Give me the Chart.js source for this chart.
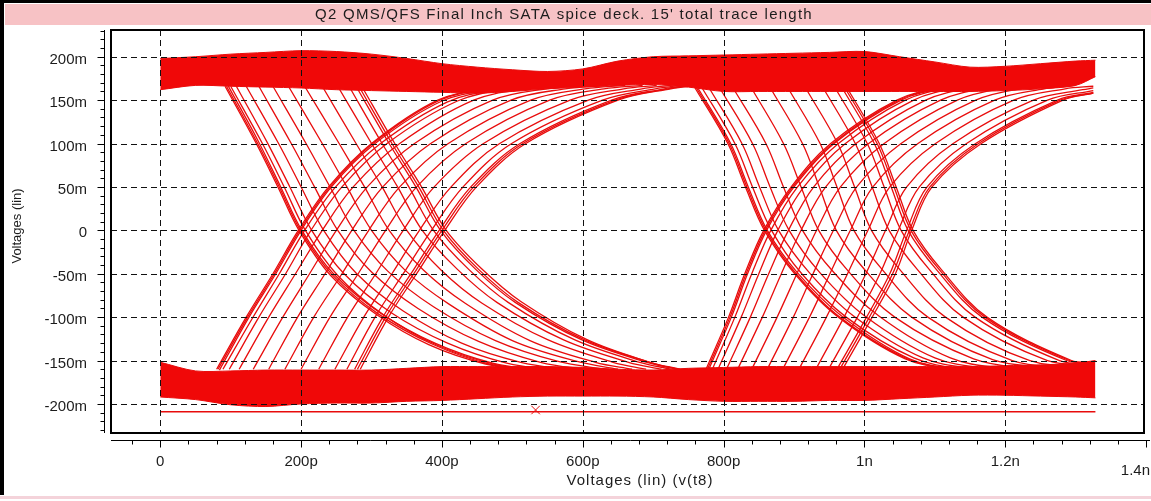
<!DOCTYPE html>
<html>
<head>
<meta charset="utf-8">
<script src="https://cdn.jsdelivr.net/npm/chart.js@4.4.1/dist/chart.umd.min.js"></script>
<style>
  html, body { margin: 0; padding: 0; background: #fff; }
  canvas { display: block; }
</style>
</head>
<body>
<canvas id="eyeChart" width="1151" height="501"></canvas>
<script>
// --- DATA (x in ps, y in mV) ---
const chartTitle = "Q2 QMS/QFS Final Inch SATA spice deck. 15' total trace length";
const xAxisTitle = 'Voltages (lin) (v(t8)';
const yAxisTitle = 'Voltages (lin)';

const xTickValues = [0, 200, 400, 600, 800, 1000, 1200, 1400];
const xTickLabels = ['0', '200p', '400p', '600p', '800p', '1n', '1.2n', '1.4n'];
const yTickValues = [-200, -150, -100, -50, 0, 50, 100, 150, 200];
const yTickLabels = ['-200m', '-150m', '-100m', '-50m', '0', '50m', '100m', '150m', '200m'];
const xRange = [-70, 1397];
const yRange = [-233.5, 230.8];

// thick "1" and "0" rails of the eye
const bandX = [0, 50, 100, 150, 200, 250, 300, 350, 400, 450, 500, 550, 600, 650,
  700, 750, 800, 850, 900, 950, 1000, 1050, 1100, 1150, 1200, 1250, 1300, 1328];
const topBandUpper = [198, 200, 203, 205, 207, 206, 203, 198, 192, 188, 185, 183, 186, 195,
  200, 201, 202, 203, 204, 205, 206, 200, 194, 188, 189, 192, 195, 196];
const topBandLower = [162, 167, 166, 165, 164, 162, 161, 160, 159, 158, 160, 163, 165, 167,
  168, 165, 160, 160, 160, 160, 160, 160, 160, 160, 161, 163, 167, 177];
const bottomBandUpper = [-152, -162, -162, -161, -161, -161, -161, -159, -157, -157, -157, -157, -158, -160,
  -161, -159, -158, -157, -157, -157, -157, -157, -157, -157, -156, -155, -153, -150];
const bottomBandLower = [-192, -195, -201, -203, -200, -199, -199, -197, -196, -194, -192, -191, -191, -191,
  -192, -195, -197, -197, -197, -196, -196, -194, -192, -190, -190, -191, -192, -193];

// first bit: falling and rising edges
const fallingEdges1 = [
  [[92,166],[135,102],[167,50],[197,0],[242,-52],[307,-97],[382,-132],[462,-154],[532,-162]],
  [[94,166],[137,102],[169,50],[199,0],[244,-51],[309,-96],[386,-131],[467,-154],[540,-162]],
  [[96,167],[139,103],[171,50],[201,0],[246,-50],[312,-95],[390,-130],[472,-153],[545,-162]],
  [[100,166],[145,100],[176,50],[206,0],[252,-52],[318,-98],[395,-133],[478,-155],[550,-163]],
  [[108,166],[152,101],[184,50],[215,0],[261,-50],[328,-95],[408,-130],[492,-153],[565,-162]],
  [[122,166],[168,100],[200,50],[232,0],[279,-50],[345,-93],[428,-130],[512,-152],[585,-161]],
  [[140,166],[186,100],[219,50],[252,0],[300,-48],[366,-90],[452,-128],[540,-152],[610,-161]],
  [[160,166],[207,100],[241,50],[275,0],[323,-47],[388,-88],[476,-127],[565,-151],[630,-160]],
  [[182,166],[230,100],[265,50],[300,0],[349,-47],[410,-85],[500,-127],[592,-151],[650,-160]],
  [[205,166],[254,100],[290,50],[325,0],[374,-46],[433,-84],[525,-127],[618,-152],[670,-160]],
  [[230,166],[278,100],[315,50],[350,0],[399,-46],[457,-84],[550,-126],[643,-152],[690,-160]],
  [[252,166],[300,100],[337,50],[372,0],[422,-45],[478,-83],[572,-126],[665,-152],[712,-160]],
  [[268,166],[315,100],[353,50],[388,0],[438,-45],[494,-83],[588,-126],[681,-152],[725,-160]],
  [[278,166],[325,100],[363,50],[398,0],[448,-45],[504,-83],[598,-126],[691,-152],[735,-160]],
  [[282,166],[329,100],[367,50],[402,0],[452,-45],[508,-83],[602,-126],[695,-152],[738,-160]],
  [[286,166],[333,100],[371,50],[406,0],[456,-44],[512,-82],[606,-126],[699,-153],[740,-161]]
];
const risingEdges1 = [
  [[80,-160],[122,-100],[160,-50],[196,0],[239,50],[300,100],[394,150],[466,163],[536,167]],
  [[82,-160],[124,-100],[162,-50],[198,0],[241,50],[302,100],[397,150],[469,163],[540,167]],
  [[84,-161],[126,-100],[164,-50],[200,0],[243,50],[305,100],[400,149],[472,162],[545,167]],
  [[89,-160],[131,-101],[169,-50],[205,0],[249,50],[311,99],[408,148],[482,162],[552,166]],
  [[98,-160],[140,-100],[178,-50],[214,0],[258,50],[322,100],[422,149],[498,163],[565,167]],
  [[112,-160],[154,-100],[192,-50],[230,0],[274,50],[340,100],[445,150],[522,163],[585,167]],
  [[132,-160],[174,-100],[212,-50],[250,0],[294,50],[361,100],[472,150],[548,163],[610,167]],
  [[154,-160],[195,-100],[234,-50],[272,0],[316,50],[384,100],[498,150],[575,163],[635,167]],
  [[177,-160],[218,-100],[258,-50],[296,0],[340,50],[409,100],[526,150],[603,163],[660,167]],
  [[200,-160],[241,-100],[281,-50],[320,0],[364,50],[434,100],[553,150],[630,163],[685,167]],
  [[225,-160],[266,-100],[306,-50],[345,0],[389,50],[459,100],[582,150],[658,163],[705,167]],
  [[248,-160],[289,-100],[329,-50],[368,0],[413,50],[482,100],[608,150],[684,163],[725,167]],
  [[265,-160],[305,-100],[345,-50],[385,0],[430,50],[499,100],[628,150],[703,163],[740,167]],
  [[276,-160],[316,-100],[356,-50],[396,0],[441,50],[511,100],[641,150],[716,163],[750,167]],
  [[280,-160],[320,-100],[360,-50],[400,0],[445,50],[515,100],[646,150],[721,163],[758,167]],
  [[284,-160],[324,-100],[364,-50],[404,0],[449,50],[519,100],[650,150],[725,163],[765,167]]
];

// second bit: falling and rising edges
const fallingEdges2 = [
  [[758,166],[806,100],[831,50],[858,0],[901,-50],[963,-100],[1058,-148],[1128,-160],[1200,-163]],
  [[760,166],[808,100],[833,50],[860,0],[903,-50],[965,-100],[1061,-148],[1132,-160],[1205,-163]],
  [[762,166],[810,100],[835,50],[862,0],[905,-49],[968,-99],[1064,-148],[1136,-160],[1210,-163]],
  [[768,166],[816,100],[841,50],[868,0],[911,-50],[974,-100],[1070,-147],[1142,-160],[1215,-163]],
  [[778,166],[826,100],[851,50],[878,0],[922,-49],[985,-99],[1083,-147],[1156,-159],[1230,-163]],
  [[793,166],[841,100],[866,50],[893,0],[937,-49],[1001,-99],[1100,-147],[1175,-159],[1245,-163]],
  [[812,166],[860,100],[885,50],[912,0],[956,-48],[1021,-99],[1122,-147],[1198,-159],[1262,-162]],
  [[838,166],[885,100],[910,50],[935,0],[977,-47],[1043,-100],[1155,-148],[1232,-159],[1288,-162]],
  [[865,166],[912,100],[936,50],[960,0],[1001,-46],[1067,-100],[1182,-149],[1262,-158],[1310,-161]],
  [[890,166],[937,100],[961,50],[985,0],[1025,-45],[1090,-100],[1210,-150],[1290,-158],[1325,-160]],
  [[915,166],[962,100],[986,50],[1010,0],[1050,-45],[1115,-100],[1235,-150],[1325,-157]],
  [[940,166],[987,100],[1011,50],[1035,0],[1075,-45],[1140,-100],[1260,-150],[1325,-155]],
  [[957,166],[1004,100],[1028,50],[1052,0],[1092,-45],[1157,-100],[1277,-150],[1325,-154]],
  [[967,166],[1014,100],[1038,50],[1062,0],[1102,-45],[1167,-100],[1287,-150],[1325,-153]],
  [[971,166],[1018,100],[1042,50],[1066,0],[1106,-45],[1171,-100],[1291,-150],[1325,-152]],
  [[974,166],[1021,100],[1045,50],[1069,0],[1109,-45],[1174,-100],[1294,-150],[1325,-152]]
];
const risingEdges2 = [
  [[775,-160],[807,-100],[830,-50],[857,0],[896,50],[952,100],[1046,150],[1108,164],[1170,168]],
  [[777,-160],[809,-100],[832,-50],[859,0],[898,50],[955,100],[1049,150],[1112,164],[1175,168]],
  [[779,-160],[811,-100],[834,-50],[861,0],[900,50],[957,100],[1052,150],[1115,164],[1180,168]],
  [[784,-160],[816,-100],[840,-50],[867,0],[905,50],[963,100],[1058,150],[1122,164],[1190,168]],
  [[792,-160],[825,-100],[850,-50],[877,0],[914,50],[973,100],[1070,150],[1135,164],[1200,168]],
  [[804,-160],[838,-100],[864,-50],[892,0],[928,50],[988,100],[1087,150],[1152,164],[1215,168]],
  [[820,-160],[855,-100],[882,-50],[910,0],[945,50],[1006,100],[1108,150],[1175,164],[1235,168]],
  [[840,-160],[876,-100],[904,-50],[932,0],[966,50],[1028,100],[1132,150],[1200,164],[1255,168]],
  [[862,-160],[899,-100],[927,-50],[956,0],[989,50],[1052,100],[1158,150],[1228,164],[1280,167]],
  [[884,-160],[922,-100],[951,-50],[980,0],[1012,50],[1076,100],[1185,150],[1255,163],[1300,167]],
  [[907,-160],[946,-100],[976,-50],[1005,0],[1036,50],[1101,100],[1212,150],[1285,163],[1325,166]],
  [[931,-160],[971,-100],[1002,-50],[1030,0],[1060,50],[1126,100],[1240,150],[1310,162],[1325,164]],
  [[949,-160],[990,-100],[1022,-50],[1048,0],[1078,50],[1145,100],[1260,150],[1325,161]],
  [[961,-160],[1003,-100],[1036,-50],[1060,0],[1089,50],[1158,100],[1274,150],[1325,159]],
  [[965,-160],[1007,-100],[1040,-50],[1064,0],[1093,50],[1162,100],[1278,150],[1325,158]],
  [[969,-160],[1011,-100],[1044,-50],[1067,0],[1096,50],[1166,100],[1282,150],[1325,158]]
];

const floorLine = [[0, -209], [1328, -209]];
const cursorMark = [[533, -207]];

// --- STYLE ---
const traceColor = 'rgb(232, 12, 12)';
const bandFill = 'rgb(240, 8, 8)';
const textColor = '#1c1c1c';
const fontFamily = '"Liberation Sans", Arial, sans-serif';

const toPts = (arr) => arr.map(([x, y]) => ({ x, y }));
const bandPts = (ys) => ys.map((y, i) => ({ x: bandX[i], y }));
const traceSet = (arr) => ({
  data: toPts(arr), showLine: true, fill: false, borderColor: traceColor,
  borderWidth: 1.3, pointRadius: 0, tension: 0.35
});
const bandSet = (ys, fill) => ({
  data: bandPts(ys), showLine: true, fill, backgroundColor: bandFill, borderColor: traceColor,
  borderWidth: 1, pointRadius: 0, tension: 0.3
});

const datasets = [
  bandSet(topBandUpper, '+1'), bandSet(topBandLower, false),
  bandSet(bottomBandUpper, '+1'), bandSet(bottomBandLower, false),
  ...fallingEdges1.map(traceSet), ...risingEdges1.map(traceSet),
  ...fallingEdges2.map(traceSet), ...risingEdges2.map(traceSet),
  traceSet(floorLine),
  { data: toPts(cursorMark), showLine: false, pointStyle: 'crossRot', pointRadius: 6,
    borderColor: traceColor, borderWidth: 1, backgroundColor: traceColor }
];

// --- FRAME, GRID, RULERS AND TEXT ---
const framePlugin = {
  id: 'frame',
  beforeDraw(chart) {
    const ctx = chart.ctx, W = chart.width;
    ctx.save();
    ctx.fillStyle = '#fff';
    ctx.fillRect(0, 0, W, chart.height);
    ctx.fillStyle = '#000';
    ctx.fillRect(0, 0, W, 3);
    ctx.fillRect(0, 0, 4, 495);
    ctx.fillStyle = '#f7c2c5';
    ctx.fillRect(5, 4, W - 5, 21);
    ctx.fillStyle = '#f4d3da';
    ctx.fillRect(0, 496, W, 3);
    ctx.fillStyle = textColor;
    ctx.font = '15px ' + fontFamily;
    ctx.letterSpacing = '1.25px';
    ctx.textAlign = 'center';
    ctx.textBaseline = 'middle';
    ctx.fillText(chartTitle, 564, 15);
    ctx.restore();
  },
  afterDatasetsDraw(chart) {
    const ctx = chart.ctx;
    const { left, right, top, bottom } = chart.chartArea;
    const xs = chart.scales.x, ys = chart.scales.y;
    ctx.save();
    // dashed grid on top of the traces
    ctx.strokeStyle = '#111';
    ctx.lineWidth = 1;
    ctx.setLineDash([6, 4]);
    xTickValues.forEach(v => {
      if (v <= xs.min || v >= xs.max) return;
      const px = Math.round(xs.getPixelForValue(v)) + 0.5;
      ctx.beginPath(); ctx.moveTo(px, top); ctx.lineTo(px, bottom); ctx.stroke();
    });
    yTickValues.forEach(v => {
      const py = Math.round(ys.getPixelForValue(v)) + 0.5;
      ctx.beginPath(); ctx.moveTo(left, py); ctx.lineTo(right, py); ctx.stroke();
    });
    ctx.setLineDash([]);
    // plot box
    ctx.strokeStyle = '#000';
    ctx.lineWidth = 2;
    ctx.strokeRect(left, top, right - left, bottom - top);

    // y ruler
    ctx.lineWidth = 1;
    const rx = left - 6.5;
    ctx.beginPath(); ctx.moveTo(rx, top); ctx.lineTo(rx, bottom); ctx.stroke();
    for (let v = -230; v <= 230; v += 10) {
      const py = Math.round(ys.getPixelForValue(v)) + 0.5;
      const len = v % 50 === 0 ? 7 : 4;
      ctx.beginPath(); ctx.moveTo(rx, py); ctx.lineTo(rx - len, py); ctx.stroke();
    }
    // x ruler
    const ry = bottom + 7.5;
    ctx.beginPath(); ctx.moveTo(left, ry); ctx.lineTo(chart.width - 1, ry); ctx.stroke();
    for (let v = -40; v <= 1400; v += 40) {
      const px = Math.round(xs.getPixelForValue(v)) + 0.5;
      const len = v % 200 === 0 ? 7 : 4;
      ctx.beginPath(); ctx.moveTo(px, ry); ctx.lineTo(px, ry + len); ctx.stroke();
    }

    // tick labels
    ctx.fillStyle = textColor;
    ctx.font = '15px ' + fontFamily;
    ctx.textBaseline = 'middle';
    ctx.textAlign = 'right';
    yTickValues.forEach((v, i) => {
      ctx.fillText(yTickLabels[i], 87, ys.getPixelForValue(v) + 3);
    });
    xTickValues.forEach((v, i) => {
      const px = xs.getPixelForValue(v);
      const w = ctx.measureText(xTickLabels[i]).width;
      if (px + w / 2 > chart.width - 1) {
        ctx.textAlign = 'right';
        ctx.fillText(xTickLabels[i], chart.width - 1, 471);
      } else {
        ctx.textAlign = 'center';
        ctx.fillText(xTickLabels[i], px, 462);
      }
    });

    // axis titles
    ctx.textAlign = 'center';
    ctx.letterSpacing = '1px';
    ctx.fillText(xAxisTitle, 640, 481);
    ctx.font = '13px ' + fontFamily;
    ctx.letterSpacing = '0px';
    ctx.translate(17, 226);
    ctx.rotate(-Math.PI / 2);
    ctx.fillText(yAxisTitle, 0, 0);
    ctx.restore();
  }
};

new Chart(document.getElementById('eyeChart'), {
  type: 'scatter',
  data: { datasets },
  options: {
    responsive: false,
    animation: false,
    events: [],
    layout: { padding: { left: 111, right: 4, top: 30, bottom: 68 } },
    plugins: { legend: { display: false }, tooltip: { enabled: false }, title: { display: false } },
    scales: {
      x: { type: 'linear', display: false, min: xRange[0], max: xRange[1] },
      y: { type: 'linear', display: false, min: yRange[0], max: yRange[1] }
    }
  },
  plugins: [framePlugin]
});
</script>
</body>
</html>
